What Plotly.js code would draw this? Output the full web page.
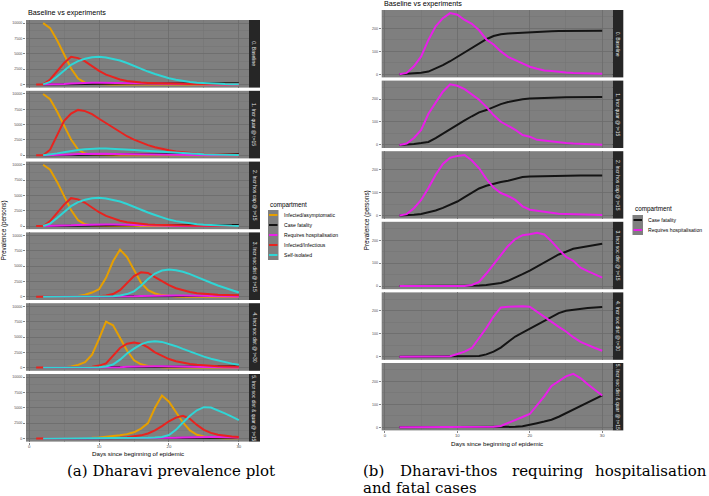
<!DOCTYPE html>
<html><head><meta charset="utf-8">
<script src="https://cdn.plot.ly/plotly-3.0.1.min.js"></script>
<style>html,body{margin:0;padding:0;background:#fff;}#chart{width:709px;height:496px;}</style>
</head><body><div id="chart"></div>
<script>
// ---------------- DATA ----------------
const days = [1,2,3,4,5,6,7,8,9,10,11,12,13,14,15,16,17,18,19,20,21,22,23,24,25,26,27,28,29,30];
const scenarios = ["0. Baseline","1. Incr quar @ t=15","2. Incr hos cap @ t=15","3. Incr soc dist @ t=15","4. Incr soc dist @ t=30","5. Incr soc dist & quar @ t=15"];
const leftNames = ["Infected/asymptomatic","Case fatality","Requires hospitalisation","Infected/Infectious","Self-isolated"];
const rightNames = ["Case fatality","Requires hospitalisation"];
const xTicks = [0,10,20,30];
const leftYTicks = [0,2500,5000,7500,10000];
const rightYTicks = [0,100,200];
const plotTitle = "Baseline vs experiments";
const xTitle = "Days since beginning of epidemic";
const yTitle = "Prevalence (persons)";
const legendTitle = "compartment";
const captionA = "(a) Dharavi prevalence plot";
const captionBWords = ["(b)","Dharavi-thos","requiring","hospitalisation"];
const captionBLine2 = "and fatal cases";

const asymptomatic = [
 [null,10000,9200,7200,4800,2600,950,280,100,30,10,0,0,0,0,0,0,0,0,0,0,0,0,0,0,0,0,0,0,0],
 [null,10000,9150,7150,4750,2550,930,270,90,30,10,0,0,0,0,0,0,0,0,0,0,0,0,0,0,0,0,0,0,0],
 [null,10000,9200,7200,4800,2600,950,280,100,30,10,0,0,0,0,0,0,0,0,0,0,0,0,0,0,0,0,0,0,0],
 [null,0,0,10,20,50,150,350,700,1250,3100,5800,7700,6500,4400,2300,1100,550,280,130,60,25,10,0,0,0,0,0,0,0],
 [null,0,10,30,80,200,450,900,2100,4700,7500,6900,4900,2800,1200,550,250,100,50,20,0,0,0,0,0,0,0,0,0,0],
 [null,0,0,0,10,20,30,50,100,150,250,350,500,700,1000,1600,2500,5000,7000,6000,4300,2600,1300,600,300,150,80,40,20,10]
];
const infectious = [
 [0,0,800,2100,3500,4500,4300,3750,2900,2200,1600,1150,800,550,400,300,250,200,170,140,120,100,80,60,50,40,30,20,10,10],
 [0,0,900,3300,5600,6800,7400,7200,6700,5950,5250,4450,3750,3100,2550,2050,1650,1300,1000,800,620,480,380,300,240,190,150,120,100,80],
 [0,0,800,2100,3500,4550,4350,3800,2950,2250,1650,1200,850,600,450,330,260,210,170,140,120,100,80,60,50,40,30,20,10,10],
 [0,0,0,0,0,10,20,40,60,100,200,450,1100,2200,3400,4000,3900,3200,2500,1900,1400,1050,800,600,480,400,340,300,270,250],
 [0,0,0,0,0,10,30,80,150,330,700,1900,3200,3900,4100,3900,3300,2500,1900,1400,1050,800,600,450,350,280,220,180,150,130],
 [0,0,0,0,0,0,10,20,30,40,50,70,100,180,300,500,800,1300,2000,2800,3400,3700,3200,2200,1400,900,600,400,300,250]
];
const selfIsolated = [
 [null,0,400,1300,2300,3200,3800,4200,4450,4500,4400,4200,3900,3500,3000,2550,2100,1700,1300,1000,750,550,400,280,200,130,80,50,30,20],
 [null,0,100,300,500,700,850,970,1050,1100,1080,1050,1000,930,860,780,700,620,540,460,390,320,260,200,150,110,80,50,30,20],
 [null,0,400,1300,2300,3250,3900,4300,4550,4600,4500,4300,4000,3600,3100,2650,2200,1800,1400,1050,800,600,430,300,210,140,90,60,35,20],
 [null,0,0,0,0,0,5,10,15,20,40,90,200,450,900,1800,2900,3800,4300,4450,4350,4100,3700,3200,2750,2300,1850,1450,1050,700],
 [null,0,0,0,0,5,10,20,30,80,200,500,1300,2300,3100,3800,4200,4300,4200,3900,3500,3050,2600,2200,1800,1450,1150,850,650,450],
 [null,0,0,0,0,0,0,0,0,0,0,0,5,10,20,50,100,150,250,550,1400,2600,3700,4600,5100,5050,4600,4100,3550,3000]
];
const hospitalisation = [
 [null,0,6,35,78,150,209,245,267,260,237,220,192,152,130,100,76,62,47,33,24,17,14,10,8,6,5,4,3,2],
 [null,0,6,30,65,136,187,232,264,258,243,218,197,166,130,101,85,66,43,36,22,18,15,10,8,6,4,3,2,1],
 [null,0,6,32,68,120,178,225,252,260,264,240,206,160,122,98,85,68,40,25,20,15,10,8,7,6,5,4,3,2],
 [null,0,0,0,0,0,0,0,0,0,0,5,18,55,95,140,175,205,222,226,233,225,195,160,128,110,80,65,52,37],
 [null,0,0,0,0,0,0,0,2,12,22,38,80,125,175,215,218,220,220,218,195,172,150,130,110,85,65,50,38,26],
 [null,0,0,0,0,0,0,0,0,0,0,0,0,0,2,6,18,33,45,58,95,135,180,200,222,233,215,188,165,139]
];
const fatality = [
 [null,0,2,4,7,12,25,40,57,76,95,114,134,153,167,175,178,180,183,185,186,187,188,189,189,190,190,190,190,190],
 [null,0,1,4,8,13,30,50,70,88,107,125,142,152,165,178,187,194,199,202,204,205,206,207,208,208,209,209,209,209],
 [null,0,1,3,7,13,22,33,46,61,80,98,118,130,139,146,152,160,168,170,171,172,173,173,174,174,174,174,174,174],
 [null,0,0,0,0,0,0,1,1,2,2,3,3,5,8,14,23,36,52,68,85,103,122,138,150,163,168,173,180,185],
 [null,0,0,0,0,0,0,0,0,0,0,0,3,10,22,40,62,88,105,122,140,158,175,190,200,205,209,212,215,217],
 [null,0,0,0,0,0,0,0,0,0,0,0,0,0,0,0,0,2,5,10,18,25,33,46,62,78,92,108,124,139]
];

// ---------------- STYLE / GEOMETRY ----------------
const W = 709, H = 496;
const FONT = "Liberation Sans, Arial, sans-serif";
const SERIF = "DejaVu Serif, Liberation Serif, serif";
const leftColors = ["#E69F00","#141414","#E81FE8","#E8231F","#30D5D5"];
const rightColors = ["#141414","#E81FE8"];
const leftSeries = [asymptomatic, fatality, hospitalisation, infectious, selfIsolated];
const rightSeries = [fatality, hospitalisation];
const PANEL_BG = "#7f7f7f", GRID = "#6b6b6b", STRIP = "#262626";

const fx = x => x / W;
const fy = y => 1 - y / H;

const L = {x0: 26, x1: 249, sx1: 260, tops: [20,90.8,161.6,232.4,303.2,374], h: 67.6, yr: [-520,10520]};
const R = {x0: 381.7, x1: 612.7, sx1: 623.3, tops: [10,80.6,151.2,221.8,292.4,363], h: 67.4, yr: [-13.5,280.5]};

const traces = [];
const layout = {
  width: W, height: H, margin: {l:0,r:0,t:0,b:0},
  paper_bgcolor: "#ffffff", plot_bgcolor: PANEL_BG,
  showlegend: false, font: {family: FONT, size: 6, color: "#000"},
  annotations: [], shapes: []
};

function axisPair(n, geom, i, yTicks, minorY) {
  const xs = n === 1 ? "" : String(n);
  const bottom = i === 5;
  layout["xaxis" + xs] = {
    domain: [fx(geom.x0), fx(geom.x1)], range: [-0.45, 31.45], anchor: "y" + xs,
    tickvals: xTicks, ticktext: xTicks.map(String), showticklabels: bottom,
    ticks: bottom ? "outside" : "", ticklen: 2, tickwidth: 0.6, tickcolor: "#333",
    ticklabelstandoff: -2,
    tickfont: {size: 4.3, color: "#4d4d4d", family: FONT},
    showgrid: true, gridcolor: GRID, gridwidth: 0.8, zeroline: false, showline: false,
    minor: {tickvals: [5,15,25], showgrid: true, gridcolor: "#737373", gridwidth: 0.5},
    fixedrange: true
  };
  const top = geom.tops[i], bot = top + geom.h;
  layout["yaxis" + xs] = {
    domain: [fy(bot), fy(top)], range: geom.yr, anchor: "x" + xs,
    tickvals: yTicks, ticktext: yTicks.map(String),
    ticks: "outside", ticklen: 2, tickwidth: 0.6, tickcolor: "#333",
    tickfont: {size: 3.6, color: "#4d4d4d", family: FONT},
    showgrid: true, gridcolor: GRID, gridwidth: 0.8, zeroline: false, showline: false,
    minor: {tickvals: minorY, showgrid: true, gridcolor: "#737373", gridwidth: 0.5},
    fixedrange: true
  };
  // strip
  layout.shapes.push({type: "rect", xref: "paper", yref: "paper", x0: fx(geom.x1), x1: fx(geom.sx1),
    y0: fy(bot), y1: fy(top), fillcolor: STRIP, line: {width: 0}, layer: "above"});
  layout.annotations.push({xref: "paper", yref: "paper", x: fx((geom.x1 + geom.sx1) / 2), y: fy((top + bot) / 2),
    text: scenarios[i], showarrow: false, textangle: 90, font: {size: 5, color: "#e5e5e5", family: FONT},
    xanchor: "center", yanchor: "middle"});
}

for (let i = 0; i < 6; i++) {
  const n = i + 1;
  axisPair(n, L, i, leftYTicks, [1250,3750,6250,8750]);
  const xs = n === 1 ? "" : String(n);
  leftSeries.forEach((s, k) => traces.push({
    x: days, y: s[i], type: "scatter", mode: "lines", name: leftNames[k],
    xaxis: "x" + xs, yaxis: "y" + xs, line: {color: leftColors[k], width: 2}, hoverinfo: "skip"
  }));
}
for (let i = 0; i < 6; i++) {
  const n = i + 7;
  axisPair(n, R, i, rightYTicks, [50,150,250]);
  rightSeries.forEach((s, k) => traces.push({
    x: days, y: s[i], type: "scatter", mode: "lines", name: rightNames[k],
    xaxis: "x" + n, yaxis: "y" + n, line: {color: rightColors[k], width: 2}, hoverinfo: "skip"
  }));
}

function ann(x, y, text, opts) {
  layout.annotations.push(Object.assign({xref: "paper", yref: "paper", x: fx(x), y: fy(y), text: text,
    showarrow: false, xanchor: "left", yanchor: "middle", font: {size: 6, color: "#000", family: FONT}}, opts || {}));
}

// titles
ann(L.x0, 12.5, plotTitle, {font: {size: 7.2, color: "#000", family: FONT}});
ann(R.x0, 3.3, plotTitle, {font: {size: 7.2, color: "#000", family: FONT}});
ann((L.x0 + L.x1) / 2, 453, xTitle, {xanchor: "center", font: {size: 6.2, color: "#000", family: FONT}});
ann((R.x0 + R.x1) / 2, 443.5, xTitle, {xanchor: "center", font: {size: 6.2, color: "#000", family: FONT}});
ann(3.5, (L.tops[0] + L.tops[5] + L.h) / 2, yTitle, {xanchor: "center", textangle: -90, font: {size: 6.3, color: "#000", family: FONT}});
ann(367, (R.tops[0] + R.tops[5] + R.h) / 2, yTitle, {xanchor: "center", textangle: -90, font: {size: 6.3, color: "#000", family: FONT}});

// legends
function legend(x0, yTitleC, yKey0, names, colors) {
  ann(x0, yTitleC, legendTitle, {font: {size: 6.3, color: "#000", family: FONT}});
  layout.shapes.push({type: "rect", xref: "paper", yref: "paper", x0: fx(x0), x1: fx(x0 + 10.5),
    y0: fy(yKey0 + 10 * names.length), y1: fy(yKey0), fillcolor: PANEL_BG, line: {width: 0}});
  names.forEach((nm, k) => {
    const yc = yKey0 + 5 + 10 * k;
    layout.shapes.push({type: "line", xref: "paper", yref: "paper", x0: fx(x0 + 1), x1: fx(x0 + 9.5),
      y0: fy(yc), y1: fy(yc), line: {color: colors[k], width: 2}});
    ann(x0 + 13.5, yc, nm, {font: {size: 5.1, color: "#000", family: FONT}});
  });
}
legend(268, 204.5, 210, leftNames, leftColors);
legend(632.5, 209.3, 215, rightNames, rightColors);

// captions
const CAP = {size: 15, color: "#000", family: SERIF};
ann(171, 470.5, captionA, {xanchor: "center", font: CAP});
ann(361, 470.5, captionBWords[0], {font: CAP});
ann(398, 470.5, captionBWords[1], {font: CAP});
ann(510, 470.5, captionBWords[2], {font: CAP});
ann(708.5, 470.5, captionBWords[3], {xanchor: "right", font: CAP});
ann(361, 488, captionBLine2, {font: CAP});

Plotly.newPlot("chart", traces, layout, {staticPlot: true, displayModeBar: false});
</script></body></html>
